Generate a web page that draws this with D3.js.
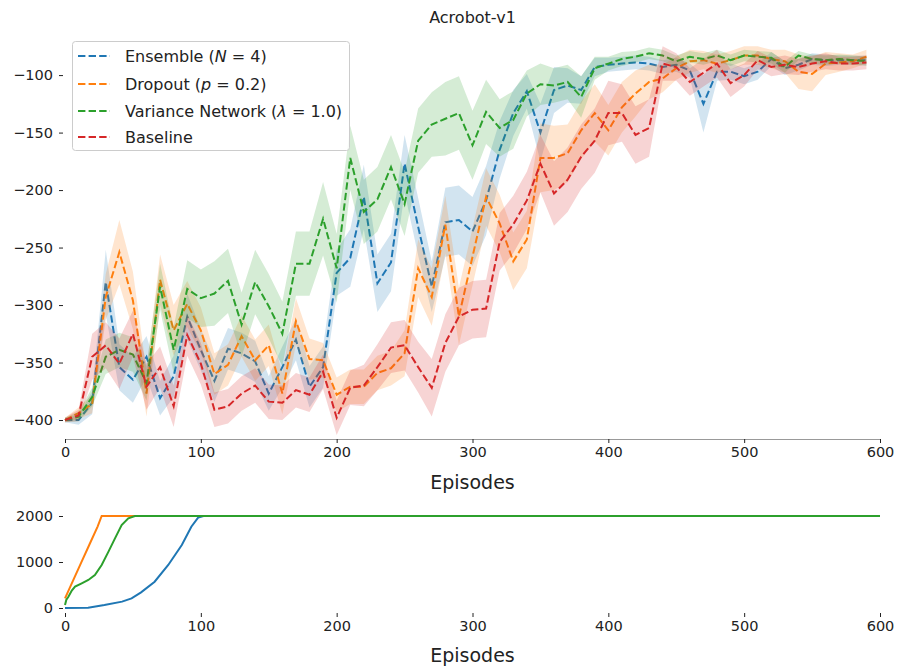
<!DOCTYPE html>
<html><head><meta charset="utf-8">
<script src="https://cdn.jsdelivr.net/npm/d3@7"></script>
<style>body{margin:0;background:#fff}svg{display:block}text{font-family:"DejaVu Sans",sans-serif;fill:#222}</style>
</head><body><svg id="c" width="900" height="666"></svg>
<script>
const episodes = [0,10,20,30,40,50,60,70,80,90,100,110,120,130,140,150,160,170,180,190,200,210,220,230,240,250,260,270,280,290,300,310,320,330,340,350,360,370,380,390,400,410,420,430,440,450,460,470,480,490,500,510,520,530,540,550,560,570,580,590];
const seriesNames = ["Ensemble", "Dropout", "Variance Network", "Baseline"];
const ensembleMean = [-400,-400,-385,-280,-354,-365,-345,-381,-362,-310,-339,-366,-338,-342,-349,-377,-354,-330,-371,-354,-272,-259,-206,-281,-263,-177,-232,-284,-228,-226,-236,-209,-165,-133,-114,-150,-113,-109,-113,-93,-91,-90,-89,-90,-93,-91,-96,-125,-97,-97,-101,-97,-86,-94,-91,-86,-87,-87,-87,-87];
const ensembleSd = [2,4,10,28,20,20,18,15,18,20,18,18,18,18,18,15,18,18,18,18,20,25,28,25,25,25,25,22,30,30,30,30,25,20,15,25,20,15,12,8,6,6,6,6,6,6,6,25,8,7,7,7,6,6,5,5,5,4,4,4];
const dropoutMean = [-400,-394,-386,-293,-254,-296,-377,-278,-322,-299,-322,-360,-352,-327,-348,-335,-377,-314,-347,-348,-378,-371,-371,-359,-355,-342,-268,-293,-230,-310,-258,-206,-229,-262,-243,-172,-172,-168,-148,-133,-148,-128,-116,-106,-103,-94,-88,-87,-90,-87,-83,-83,-86,-88,-97,-99,-90,-89,-88,-84];
const dropoutSd = [2,5,8,20,28,25,20,22,22,20,20,18,18,18,18,18,18,20,18,15,15,15,15,15,15,20,25,25,25,25,25,25,25,25,25,30,28,25,25,25,22,22,20,15,12,10,10,8,8,8,8,8,8,10,15,15,10,8,6,6];
const varianceMean = [-400,-397,-380,-345,-339,-343,-368,-284,-339,-286,-294,-290,-279,-317,-280,-301,-325,-264,-264,-225,-268,-172,-219,-208,-180,-212,-157,-143,-138,-133,-161,-132,-146,-139,-116,-108,-109,-106,-119,-94,-90,-86,-84,-81,-83,-88,-84,-86,-83,-87,-83,-84,-85,-93,-83,-86,-87,-86,-87,-88];
const varianceSd = [2,4,8,15,15,15,15,20,20,25,25,28,28,28,28,28,28,28,28,32,30,28,28,28,28,28,28,28,32,32,30,28,25,25,20,18,15,15,18,10,6,6,5,5,5,5,5,5,5,5,5,5,5,5,4,4,4,4,4,4];
const baselineMean = [-400,-396,-345,-335,-351,-325,-371,-354,-388,-326,-351,-391,-388,-377,-370,-384,-385,-374,-378,-358,-398,-372,-370,-354,-337,-335,-354,-372,-333,-310,-304,-303,-245,-230,-209,-177,-203,-191,-171,-157,-133,-133,-152,-146,-90,-93,-106,-98,-90,-107,-100,-87,-93,-91,-93,-90,-88,-90,-90,-89];
const baselineSd = [2,5,20,20,22,20,20,18,18,18,18,15,15,15,15,15,15,15,15,15,15,15,18,20,22,22,22,25,25,25,25,25,25,25,25,25,28,28,28,28,28,25,25,25,15,12,12,12,12,12,10,8,8,8,7,7,7,6,6,6];
const colors = ["#1f77b4", "#ff7f0e", "#2ca02c", "#d62728"];
const yTicksTop = [-400,-350,-300,-250,-200,-150,-100];
const xTicks = [0,100,200,300,400,500,600];
// bottom panel: cumulative curves
const ensembleCumX = [0,17,29,42,49,56,66,76,86,93,98,102,600];
const ensembleCumY = [0,7,65,138,210,340,572,935,1370,1768,1964,2000,2000];
const dropoutCumX = [0,6,12,18,24,27,600];
const dropoutCumY = [210,600,990,1380,1770,2000,2000];
const varianceCumX = [0,1,2.5,5,7.4,12.3,17.2,22,27,32,36.8,41.7,46.6,51.5,600];
const varianceCumY = [65,180,246,380,464,536,609,717,935,1225,1514,1804,1949,2000,2000];
const yTicksBottom = [0,1000,2000];

const TICK_FS = 14.5, LABEL_FS = 19, TITLE_FS = 16, LEG_FS = 16;
const DASH = "7.4,3.2";

const svg = d3.select("#c");
const x = d3.scaleLinear().domain([0,600]).range([65,880]);
const y = d3.scaleLinear().domain([-416.5,-66]).range([439,36]);

const means = [ensembleMean, dropoutMean, varianceMean, baselineMean];
const sds = [ensembleSd, dropoutSd, varianceSd, baselineSd];

const gTop = svg.append("g");
means.forEach((m, i) => {
  const pts = episodes.map((e, k) => ({e, m: m[k], s: sds[i][k]}));
  gTop.append("path").datum(pts)
    .attr("d", d3.area().x(d => x(d.e)).y0(d => y(d.m - d.s)).y1(d => y(d.m + d.s)))
    .attr("fill", colors[i]).attr("fill-opacity", 0.2).attr("stroke", "none");
  gTop.append("path").datum(pts)
    .attr("d", d3.line().x(d => x(d.e)).y(d => y(d.m)))
    .attr("fill", "none").attr("stroke", colors[i]).attr("stroke-width", 2)
    .attr("stroke-dasharray", DASH);
});

function styleAxis(g) {
  g.selectAll("text").attr("font-size", TICK_FS).attr("font-family", "DejaVu Sans").attr("fill", "#222");
  g.selectAll(".tick line").attr("stroke", "#222");
}

// top axes
const xAxTop = svg.append("g").attr("transform", "translate(0,439)")
  .call(d3.axisBottom(x).tickValues(xTicks).tickSize(4).tickPadding(4).tickFormat(d3.format("d")));
xAxTop.select(".domain").attr("stroke", "#999");
styleAxis(xAxTop);
const yAxTop = svg.append("g").attr("transform", "translate(63,0)")
  .call(d3.axisLeft(y).tickValues(yTicksTop).tickSize(4).tickPadding(6));
yAxTop.select(".domain").remove();
styleAxis(yAxTop);

svg.append("text").attr("x", 472.5).attr("y", 23).attr("text-anchor", "middle").attr("font-size", TITLE_FS).text("Acrobot-v1");
svg.append("text").attr("x", 472.5).attr("y", 489).attr("text-anchor", "middle").attr("font-size", LABEL_FS).text("Episodes");

// legend
const leg = svg.append("g");
leg.append("rect").attr("x", 72.5).attr("y", 41.5).attr("width", 277).attr("height", 109).attr("rx", 3)
  .attr("fill", "#fff").attr("fill-opacity", 0.8).attr("stroke", "#ccc");
const legRows = [56, 84, 111, 137];
const legLabels = [
  [["Ensemble (", false], ["N", true], [" = 4)", false]],
  [["Dropout (", false], ["p", true], [" = 0.2)", false]],
  [["Variance Network (", false], ["λ", true], [" = 1.0)", false]],
  [["Baseline", false]]
];
legLabels.forEach((parts, i) => {
  leg.append("line").attr("x1", 78).attr("x2", 110).attr("y1", legRows[i]).attr("y2", legRows[i])
    .attr("stroke", colors[i]).attr("stroke-width", 2).attr("stroke-dasharray", DASH);
  const t = leg.append("text").attr("x", 125).attr("y", legRows[i] + 5.5).attr("font-size", LEG_FS);
  parts.forEach(p => t.append("tspan").attr("font-style", p[1] ? "italic" : "normal").text(p[0]));
});

// bottom panel
const yb = d3.scaleLinear().domain([0,2000]).range([608,516]);
const cumX = [ensembleCumX, dropoutCumX, varianceCumX];
const cumY = [ensembleCumY, dropoutCumY, varianceCumY];
cumX.forEach((xs, i) => {
  const pts = xs.map((e, k) => [e, cumY[i][k]]);
  svg.append("path").datum(pts)
    .attr("d", d3.line().x(d => x(d[0])).y(d => yb(d[1])))
    .attr("fill", "none").attr("stroke", colors[i]).attr("stroke-width", 2);
});
const xAxBot = svg.append("g").attr("transform", "translate(0,613)")
  .call(d3.axisBottom(x).tickValues(xTicks).tickSize(4).tickPadding(4).tickFormat(d3.format("d")));
xAxBot.select(".domain").remove();
styleAxis(xAxBot);
const yAxBot = svg.append("g").attr("transform", "translate(63,0)")
  .call(d3.axisLeft(yb).tickValues(yTicksBottom).tickSize(4).tickPadding(6).tickFormat(d3.format("d")));
yAxBot.select(".domain").remove();
styleAxis(yAxBot);
svg.append("text").attr("x", 472.5).attr("y", 662).attr("text-anchor", "middle").attr("font-size", LABEL_FS).text("Episodes");
</script></body></html>
